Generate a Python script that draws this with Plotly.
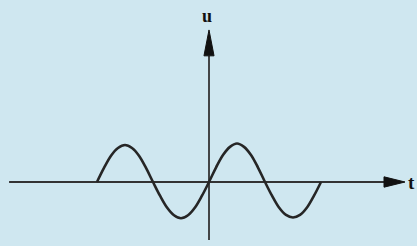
import plotly.graph_objects as go

# wave samples (t in quarter-period units, u in amplitude units)
t_vals = [-4, -3.75, -3.5, -3.25, -3, -2.75, -2.5, -2.25, -2, -1.75, -1.5, -1.25, -1, -0.75, -0.5, -0.25,
          0, 0.25, 0.5, 0.75, 1, 1.25, 1.5, 1.75, 2, 2.25, 2.5, 2.75, 3, 3.25, 3.5, 3.75, 4]
u_vals = [0, 0.38, 0.71, 0.92, 1.0, 0.92, 0.71, 0.38, 0, -0.37, -0.69, -0.9, -0.98, -0.9, -0.69, -0.37,
          0, 0.39, 0.73, 0.95, 1.04, 0.95, 0.73, 0.39, 0, -0.37, -0.69, -0.89, -0.96, -0.89, -0.69, -0.37, 0]
axis_labels = ["t", "u"]

# axis extents (data units)
t_axis = [-7.14, 6.25]   # horizontal line start, arrowhead base
t_tip = 7.0
u_axis = [-1.57, 3.41]   # vertical line start, arrowhead base
u_tip = 4.11

ink = "#262626"
bg = "#cfe7f0"

fig = go.Figure()
# axes lines
fig.add_trace(go.Scatter(x=t_axis, y=[0, 0], mode="lines", line=dict(color="#333333", width=1.8),
                         hoverinfo="skip", showlegend=False))
fig.add_trace(go.Scatter(x=[0, 0], y=u_axis, mode="lines", line=dict(color="#333333", width=1.8),
                         hoverinfo="skip", showlegend=False))
# wave
fig.add_trace(go.Scatter(x=t_vals, y=u_vals, mode="lines",
                         line=dict(color=ink, width=2.6, shape="spline"),
                         hoverinfo="skip", showlegend=False))

# arrowheads
hw_u = 0.14
hw_t = 0.18
fig.add_shape(type="path", xref="x", yref="y",
              path=f"M {t_tip},0 L {t_axis[1]},{hw_u} L {t_axis[1]},{-hw_u} Z",
              fillcolor="#111111", line=dict(color="#111111", width=1))
fig.add_shape(type="path", xref="x", yref="y",
              path=f"M 0,{u_tip} L {hw_t},{u_axis[1]} L {-hw_t},{u_axis[1]} Z",
              fillcolor="#111111", line=dict(color="#111111", width=1))

fig.add_annotation(x=7.42, y=0, xref="x", yref="y", text="<b>" + axis_labels[0] + "</b>", showarrow=False,
                   xanchor="right", font=dict(family="Liberation Serif", size=19, color="#111111"))
fig.add_annotation(x=-0.08, y=4.5, xref="x", yref="y", text="<b>" + axis_labels[1] + "</b>",
                   showarrow=False, font=dict(family="Liberation Serif", size=18, color="#111111"))

fig.update_layout(width=417, height=246, margin=dict(l=0, r=0, t=0, b=0),
                  paper_bgcolor=bg, plot_bgcolor=bg,
                  xaxis=dict(range=[-209/28, 208/28], visible=False, fixedrange=True),
                  yaxis=dict(range=[-64/37, 182/37], visible=False, fixedrange=True))
fig.write_html("out.html", config={"displayModeBar": False},
               post_script="document.body.style.margin='0';document.body.style.background='%s';" % bg)
